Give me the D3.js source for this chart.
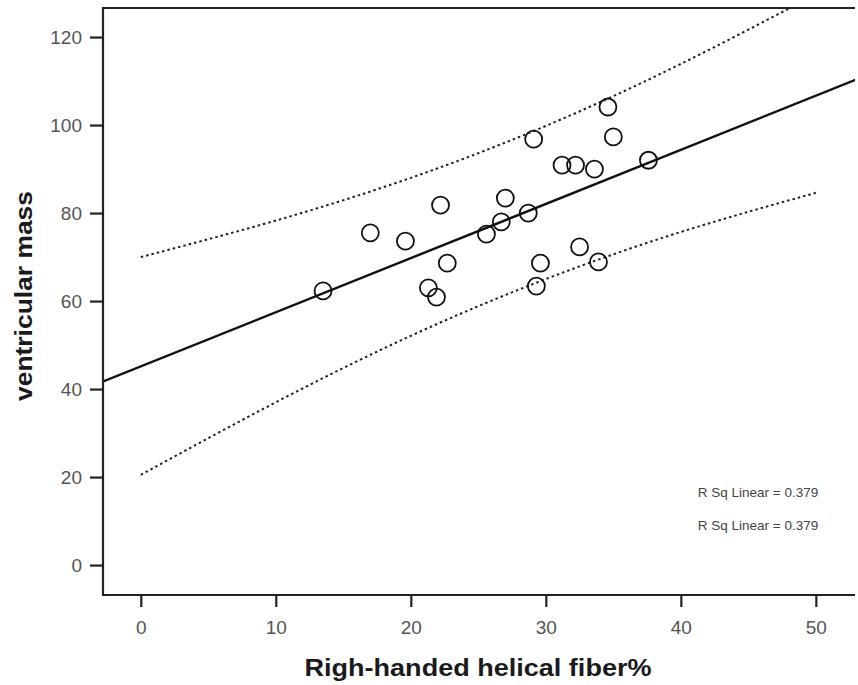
<!DOCTYPE html>
<html>
<head>
<meta charset="utf-8">
<script src="https://cdn.jsdelivr.net/npm/d3@7"></script>
<style>
  body { margin: 0; background: #fff; }
  svg { display: block; }
</style>
</head>
<body>
<div id="vis"></div>
<script>
// fiber % (x) and ventricular mass (y)
const fiber = [13.5, 17.0, 19.6, 22.2, 22.7, 21.3, 21.9, 25.6, 26.7, 27.0, 28.7,
               29.1, 29.6, 29.3, 31.2, 32.2, 32.5, 33.6, 33.9, 34.6, 35.0, 37.6];
const mass  = [62.3, 75.5, 73.6, 81.8, 68.6, 63.0, 60.9, 75.2, 78.0, 83.4, 80.0,
               96.8, 68.6, 63.4, 90.9, 90.9, 72.3, 90.0, 68.9, 104.1, 97.3, 92.0];
// 95% interval bands
const bandX     = [0, 10, 20, 30, 40, 50];
const bandUpper = [70.0, 78.3, 88.0, 99.8, 113.9, 129.7];
const bandLower = [20.5, 37.0, 52.1, 65.0, 75.7, 84.6];
const xTicks = [0, 10, 20, 30, 40, 50];
const yTicks = [0, 20, 40, 60, 80, 100, 120];
const legendLines = ["R Sq Linear = 0.379", "R Sq Linear = 0.379"];

const W = 858, H = 685;
const m = {left: 103, top: 8, right: 3, bottom: 90};
const font = "'Liberation Sans', Arial, sans-serif";

const svg = d3.select("#vis").append("svg")
    .attr("width", W).attr("height", H);

const x = d3.scaleLinear().domain([-2.8, 52.9]).range([m.left, W - m.right]);
const y = d3.scaleLinear().domain([-6.8, 126.6]).range([H - m.bottom, m.top]);

// least squares fit line
const mx = d3.mean(fiber), my = d3.mean(mass);
const sxx = d3.sum(fiber, v => (v - mx) ** 2);
const sxy = d3.sum(fiber, (v, i) => (v - mx) * (mass[i] - my));
const b = sxy / sxx, a = my - b * mx;

svg.append("clipPath").attr("id", "plotclip")
  .append("rect")
    .attr("x", m.left).attr("y", m.top)
    .attr("width", W - m.right - m.left).attr("height", H - m.bottom - m.top);

const g = svg.append("g").attr("clip-path", "url(#plotclip)");

const band = d3.line().x(d => x(d[0])).y(d => y(d[1])).curve(d3.curveNatural);

[bandUpper, bandLower].forEach(vals => {
  g.append("path")
    .datum(bandX.map((v, i) => [v, vals[i]]))
    .attr("d", band).attr("fill", "none")
    .attr("stroke", "#222").attr("stroke-width", 2)
    .attr("stroke-dasharray", "2.5,3");
});

g.append("line")
  .attr("x1", x(-3)).attr("y1", y(a + b * -3))
  .attr("x2", x(53)).attr("y2", y(a + b * 53))
  .attr("stroke", "#111").attr("stroke-width", 2.4);

g.selectAll("circle.pt")
  .data(fiber.map((v, i) => [v, mass[i]]))
  .join("circle")
    .attr("class", "pt")
    .attr("cx", d => x(d[0])).attr("cy", d => y(d[1]))
    .attr("r", 8.5)
    .attr("fill", "none").attr("stroke", "#111").attr("stroke-width", 1.8);

// frame (top, left, bottom)
svg.append("path")
  .attr("d", `M${W - m.right},${m.top} H${m.left} V${H - m.bottom} H${W - m.right}`)
  .attr("fill", "none").attr("stroke", "#222").attr("stroke-width", 2.2);

// axes
const xAxis = svg.append("g")
  .attr("transform", `translate(0,${H - m.bottom})`)
  .call(d3.axisBottom(x).tickValues(xTicks).tickSize(12).tickPadding(14));
const yAxis = svg.append("g")
  .attr("transform", `translate(${m.left},0)`)
  .call(d3.axisLeft(y).tickValues(yTicks).tickSize(13).tickPadding(8));

[xAxis, yAxis].forEach(ax => {
  ax.select(".domain").remove();
  ax.selectAll(".tick line").attr("stroke", "#222").attr("stroke-width", 2.2);
  ax.selectAll(".tick text")
    .attr("fill", "#555")
    .style("font-family", font)
    .style("font-size", "19px");
});

// legend text
svg.selectAll("text.leg")
  .data(legendLines)
  .join("text")
    .attr("class", "leg")
    .attr("x", 758).attr("y", (d, i) => 497 + i * 33)
    .attr("text-anchor", "middle")
    .attr("fill", "#444")
    .style("font-family", font)
    .style("font-size", "13.5px")
    .text(d => d);

// axis titles
svg.append("text")
  .attr("x", 478).attr("y", 676)
  .attr("text-anchor", "middle")
  .attr("textLength", 347).attr("lengthAdjust", "spacingAndGlyphs")
  .style("font-family", font)
  .style("font-size", "23px").style("font-weight", "bold")
  .attr("fill", "#1a1a1a")
  .text("Righ-handed helical fiber%");

svg.append("text")
  .attr("transform", "translate(32,296) rotate(-90)")
  .attr("text-anchor", "middle")
  .attr("textLength", 210).attr("lengthAdjust", "spacingAndGlyphs")
  .style("font-family", font)
  .style("font-size", "23px").style("font-weight", "bold")
  .attr("fill", "#1a1a1a")
  .text("ventricular mass");
</script>
</body>
</html>
